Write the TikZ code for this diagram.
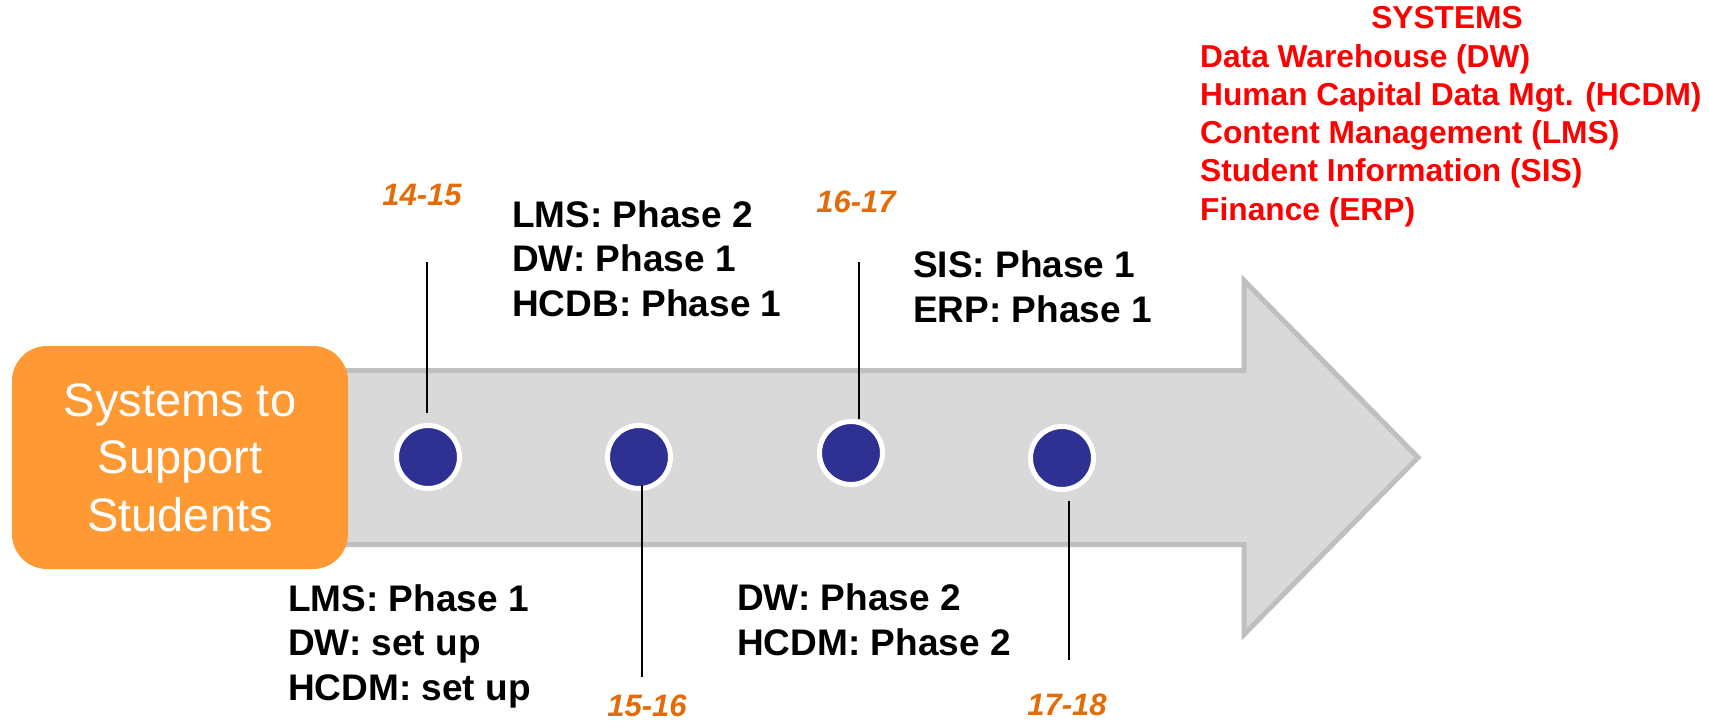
\documentclass[tikz,border=0pt]{standalone}
\usepackage{fontspec}
\setmainfont{Liberation Sans}
\usetikzlibrary{positioning}

\definecolor{boxorange}{RGB}{255,153,51}
\definecolor{dotblue}{RGB}{46,49,146}
\definecolor{arrowgray}{RGB}{217,217,217}
\definecolor{arrowedge}{RGB}{191,191,191}
\definecolor{yearorange}{RGB}{227,108,9}
\definecolor{sysred}{RGB}{255,0,0}

\tikzset{
	dot/.style={circle, fill=dotblue, draw=white, line width=5pt, minimum size=63pt, inner sep=0pt},
	tick/.style={line width=1.8pt},
	year/.style={text=yearorange, font=\fontsize{31}{37}\selectfont\bfseries\itshape},
	phase/.style={anchor=base west, align=left, inner sep=0pt, font=\fontsize{37}{44.5}\selectfont\bfseries},
	syslist/.style={text=sysred, inner sep=0pt, font=\fontsize{31.7}{38.25}\selectfont\bfseries}
}

\begin{document}
\begin{tikzpicture}[x=1pt, y=-1pt]
		%%%%% FRAME %%%%%
		\useasboundingbox (0, 0) rectangle (1709, 723);
		
		%%%%% BIG ARROW %%%%%
		\draw[fill=arrowgray, draw=arrowedge, line width=5pt] (300, 370.5) -- (1244, 370.5) -- (1244, 280.5) -- (1418, 457.5) -- (1244, 634.5) -- (1244, 544.5) -- (300, 544.5) -- cycle;
		
		\node[rounded corners=35pt, fill=boxorange, text=white, align=center, minimum width=336pt, minimum height=223pt,
			font=\fontsize{47}{57.5}\selectfont] (goal) at (180, 457.5) {Systems to\\Support\\Students};
		
		%%%%% MILESTONES %%%%%
		\node[dot] (d1) at (428, 457) {};
		\node[dot] (d2) at (639, 457) {};
		\node[dot] (d3) at (851, 453) {};
		\node[dot] (d4) at (1062, 458) {};
		
		\coordinate (t1) at (427, 262);
		\coordinate (t2) at (642, 677);
		\coordinate (t3) at (859, 262);
		\coordinate (t4) at (1069, 660);
		
		\draw[tick, shorten >=10pt] (t1) -- (t1 |- d1.north);
		\draw[tick, shorten <=28pt] (t2 |- d2.center) -- (t2);
		\draw[tick] (t3) -- (t3 |- d3.north);
		\draw[tick, shorten <=9pt] (t4 |- d4.south) -- (t4);
		
		\node[year] (y1) at (422, 195) {14-15};
		\node[year] (y2) at (647, 706) {15-16};
		\node[year] (y3) at (856, 202) {16-17};
		\node[year] (y4) at (1067, 705) {17-18};
		
		%%%%% PHASES (anchored on last line) %%%%%
		\node[phase] (p1) at (288, 700) {LMS: Phase 1\\DW: set up\\HCDM: set up};
		\node[phase] (p2) at (512, 316) {LMS: Phase 2\\DW: Phase 1\\HCDB: Phase 1};
		\node[phase] (p3) at (737, 655) {DW: Phase 2\\HCDM: Phase 2};
		\node[phase] (p4) at (913, 322) {SIS: Phase 1\\ERP: Phase 1};
		
		%%%%% SYSTEMS LIST %%%%%
		\node[syslist, anchor=base] (syshead) at (1447, 28) {SYSTEMS};
		\node[syslist, anchor=base west, align=left] (sysbody) at (1200, 220) {Data Warehouse (DW)\\Human Capital Data Mgt. (HCDM)\\Content Management (LMS)\\Student Information (SIS)\\Finance (ERP)};
		
\end{tikzpicture}
\end{document}
